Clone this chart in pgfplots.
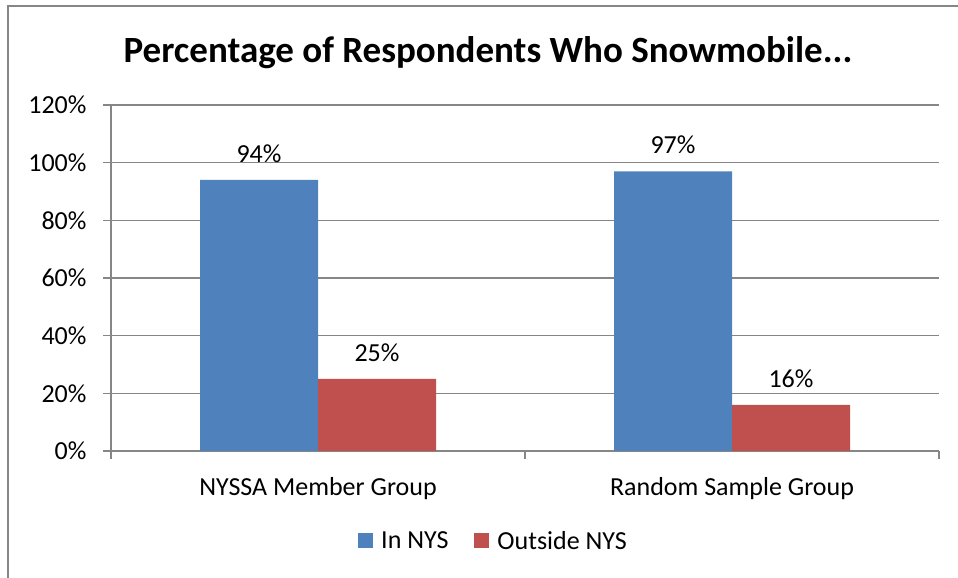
\documentclass[border=0pt]{standalone}
\usepackage{fontspec}
\setmainfont{Carlito}
\usepackage{pgfplots}
\pgfplotsset{compat=1.18}
\definecolor{barblue}{RGB}{79,129,189}
\definecolor{barred}{RGB}{192,80,77}
\definecolor{axgray}{RGB}{134,134,134}
\begin{document}
\begin{tikzpicture}[x=1pt,y=1pt]
\useasboundingbox (0,0) rectangle (958,578);
\draw[axgray, line width=1.5pt] (8,0) -- (8,572) -- (958,572);
\node[font=\fontsize{37}{44}\selectfont\bfseries] at (488,525) {Percentage of Respondents Who Snowmobile...};
\begin{axis}[
  at={(111pt,127pt)}, anchor=south west,
  scale only axis, width=828pt, height=346pt,
  ymin=0, ymax=120, xmin=-0.5, xmax=1.5,
  ybar=0pt, bar width=118pt,
  axis x line*=bottom, axis y line*=left,
  ytick={0,20,...,120},
  yticklabels={0\%,20\%,40\%,60\%,80\%,100\%,120\%},
  xtick={-0.5,0.5,1.5}, x tick label as interval,
  xticklabels={NYSSA Member Group, Random Sample Group},
  tick align=outside, major tick length=8pt,
  tick style={axgray, line width=1.6pt},
  axis line style={axgray, line width=1.6pt},
  ymajorgrids, grid style={axgray, line width=1.6pt},
  ticklabel style={font=\fontsize{26}{30}\selectfont},
  yticklabel style={xshift=-13pt},
  xticklabel style={yshift=-15pt},
  /pgf/number format/assume math mode=true,
  nodes near coords={\pgfmathprintnumber{\pgfplotspointmeta}\%},
  nodes near coords style={font=\fontsize{26}{30}\selectfont, anchor=south, inner sep=0pt, yshift=17pt, black},
  legend style={at={(0.462,-0.26)}, anchor=center, draw=none, legend columns=2,
    font=\fontsize{26}{30}\selectfont,
    /tikz/every odd column/.append style={column sep=6pt},
    /tikz/every even column/.append style={column sep=24pt}},
  legend image code/.code={\fill[#1] (0pt,-7.5pt) rectangle (15pt,7.5pt);},
]
\addplot[fill=barblue, draw=none] coordinates {(0,94) (1,97)};
\addplot[fill=barred, draw=none] coordinates {(0,25) (1,16)};
\legend{In NYS, Outside NYS}
\end{axis}
\end{tikzpicture}
\end{document}
